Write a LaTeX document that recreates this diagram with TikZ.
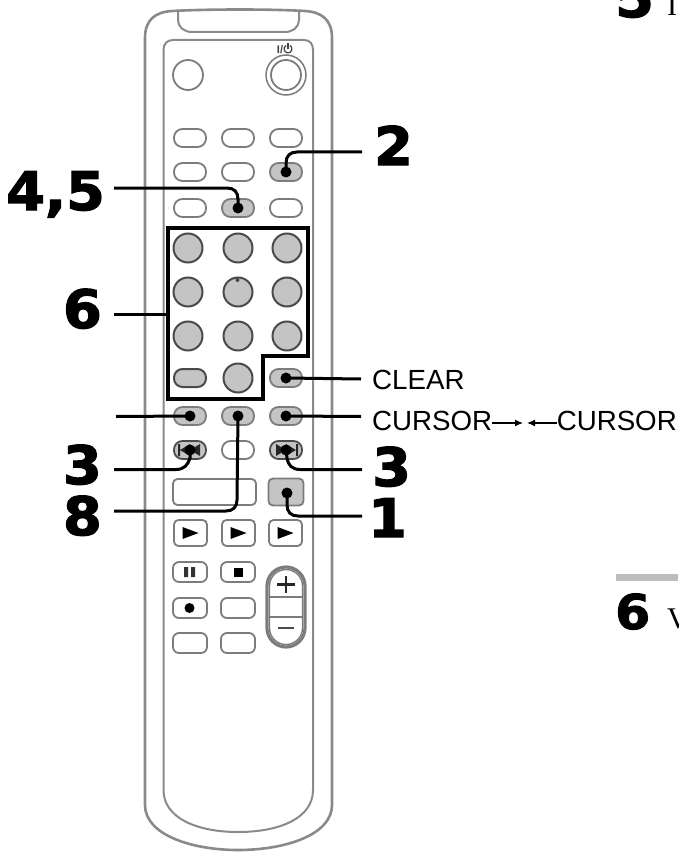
\documentclass[tikz,border=0pt]{standalone}
\usepackage{fontspec}
\setmainfont{Liberation Sans}
\newfontfamily\heavyface[FakeBold=2.4,FakeStretch=1.05]{DejaVu Sans Bold}
\newfontfamily\heavysmall[FakeBold=2,FakeStretch=1.05]{DejaVu Sans Bold}
\newfontfamily\serifface{Liberation Serif}
\usetikzlibrary{arrows.meta}
\definecolor{shell}{HTML}{8A8A8A}
\definecolor{btnline}{HTML}{7C7C7C}
\definecolor{btngray}{HTML}{C4C4C4}
\definecolor{keyline}{HTML}{4A4A4A}
\definecolor{barg}{HTML}{BDBDBD}
\tikzset{
  x=1pt,y=-1pt,
  shellline/.style={draw=shell,line width=2.6pt},
  panelline/.style={draw=shell,line width=2pt},
  oval/.style={rectangle,rounded corners=8.5pt,draw=btnline,line width=1.8pt,minimum width=32pt,minimum height=18pt,inner sep=0pt,fill=white},
  gov/.style={oval,fill=btngray,draw=btnline},
  kov/.style={oval,fill=btngray,draw=keyline,line width=2pt},
  kcirc/.style={circle,draw=keyline,line width=2pt,fill=btngray,minimum size=29pt,inner sep=0pt},
  rnd/.style={circle,draw=btnline,line width=1.8pt,inner sep=0pt,fill=white},
  squar/.style={rectangle,rounded corners=4.5pt,draw=btnline,line width=1.8pt,inner sep=0pt,fill=white,minimum width=33pt},
  dotn/.style={circle,fill=black,inner sep=0pt,minimum size=11pt},
  leader/.style={draw=black,line width=3pt},
  numeral/.style={inner sep=0pt,font=\heavyface\fontsize{53}{53}\selectfont},
  lab/.style={inner sep=0pt,font=\fontsize{27.7}{27.7}\selectfont},
  glyph/.style={fill=black!85},
}
\begin{document}
\begin{tikzpicture}
\useasboundingbox (0,0) rectangle (678,853);
\clip (0,0) rectangle (678,853);
% shell
\path[shellline] (145,805) -- (145,38) .. controls (145,20) and (155,12) .. (172,11)
  .. controls (210,9) and (270,9) .. (305,11) .. controls (322,12) and (332,20) .. (332,38)
  -- (332,805) .. controls (332,835) and (285,850) .. (238,850) .. controls (192,850) and (145,835) .. (145,805) -- cycle;
\path[panelline] (163.5,790) -- (163.5,50) .. controls (163.5,44) and (167,40) .. (173,40)
  -- (304,40) .. controls (310,40) and (313,44) .. (313,50) -- (313,790)
  .. controls (313,818) and (280,832) .. (238,832) .. controls (197,832) and (163.5,818) .. (163.5,790) -- cycle;
\path[panelline] (178,11) -- (178,20) .. controls (178,27) and (184,32) .. (192,32) -- (285,32)
  .. controls (293,32) and (299,27) .. (299,20) -- (299,11);
% top buttons
\node[rnd,minimum size=30pt] (bA) at (188,75) {};
\node[rnd,minimum size=40pt,line width=1.5pt] (bPo) at (286,75) {};
\node[rnd,minimum size=30pt,line width=1.8pt] (bPi) at (286,75) {};
\node[inner sep=0pt,font=\bfseries\fontsize{11}{11}\selectfont,text=black!75] (plab) at (280,49.5) {I/};
\draw[black!75,line width=1.2pt] (286,45.5) arc[start angle=120,end angle=420,radius=4pt];
\draw[black!75,line width=1.2pt] (288,43.5) -- (288,49);
\foreach \nm/\x/\y in {r1a/190/138,r1b/238/138,r1c/286/138,r2a/190/172,r2b/238/172,r3a/190/208,r3c/286/208}
  \node[oval] (\nm) at (\x,\y) {};
\node[gov] (r2c) at (286,172) {};
\node[gov] (r3b) at (238,208) {};
% keypad
\foreach \nm/\x/\y in {k1/188/248,k2/238/248,k3/287/248,k4/188/292,k5/238/292,k6/287/292,k7/188/336,k8/238/336,k9/287/336,k0/238/378}
  \node[kcirc] (\nm) at (\x,\y) {};
\fill[keyline] (237.5,280) circle[radius=2pt];
\node[kov] (kL) at (190,378) {};
\node[gov] (bClear) at (286,378) {};
% row y=416
\node[gov] (c1) at (190,416) {};
\node[gov] (c2) at (238,416) {};
\node[gov] (c3) at (286,416) {};
% skip row
\node[gov,draw=keyline] (s1) at (190,450) {};
\node[oval] (s2) at (238,450) {};
\node[gov,draw=keyline] (s3) at (286,450) {};
\fill[glyph] (178,444) rectangle (180,456) (180,450) -- (190,444) -- (190,456) -- cycle (190,450) -- (200,444) -- (200,456) -- cycle;
\fill[glyph] (296,444) rectangle (298,456) (296,450) -- (286,444) -- (286,456) -- cycle (286,450) -- (276,444) -- (276,456) -- cycle;
% display and gray square
\node[squar,minimum width=83pt,minimum height=26pt] (disp) at (214.5,492) {};
\node[squar,minimum width=35pt,minimum height=27pt,fill=btngray] (bOne) at (286,492) {};
% play row
\foreach \nm/\x in {p1/190.5,p2/238.5,p3/285.5}{
  \node[squar,minimum height=26pt] (\nm) at (\x,533) {};
  \fill[black] (\x-8,527) -- (\x+8,533) -- (\x-8,539) -- cycle;
}
% lower buttons
\foreach \nm/\x/\y in {q1/190/572,q2/238/572,q3/190/608,q4/238/608,q5/190/643,q6/238/643}
  \node[squar,minimum width=34pt,minimum height=20pt,rounded corners=6pt] (\nm) at (\x,\y) {};
\fill[black!80] (184,567) rectangle (188,577) (191,567) rectangle (195,577);
\fill[black] (233.5,567.5) rectangle (242.5,577);
\fill[black] (189.5,608) circle[radius=5pt];
% volume
\path[draw=btnline,line width=3.2pt,fill=white] (267,586) arc[start angle=180,end angle=360,radius=19pt,y radius=-19pt] -- (305,628) arc[start angle=0,end angle=180,radius=19pt,y radius=-19pt] -- cycle;
\path[draw=btnline,line width=1.4pt] (269.5,586) arc[start angle=180,end angle=360,radius=16.5pt,y radius=-16.5pt] -- (302.5,628) arc[start angle=0,end angle=180,radius=16.5pt,y radius=-16.5pt] -- cycle;
\draw[btnline,line width=1.6pt] (270,597) -- (302,597) (270,617) -- (302,617);
\draw[black!85,line width=2.6pt] (286,576) -- (286,593) (277,584.5) -- (295,584.5);
\draw[black!70,line width=2.4pt] (278,628) -- (294,628);
% keypad box
\draw[black,line width=3.6pt,line join=miter] (168,228) -- (308,228) -- (308,356) -- (263,356) -- (263,399) -- (168,399) -- cycle;
% dots
\node[dotn] (d2) at (r2c.center) {};
\node[dotn] (d45) at (r3b.center) {};
\node[dotn] (dClear) at (bClear.center) {};
\node[dotn] (dc1) at (c1.center) {};
\node[dotn] (d8) at (c2.center) {};
\node[dotn] (dc3) at (c3.center) {};
\node[dotn] (ds1) at (s1.center) {};
\node[dotn] (ds3) at (s3.center) {};
\node[dotn] (d1) at (287,493) {};
% free ends of leaders
\coordinate (e2) at (362,152);
\coordinate (e45) at (114,188);
\coordinate (e6) at (114,314);
\coordinate (ec1) at (116,416.5);
\coordinate (es1) at (114,469.5);
\coordinate (e8) at (114,511);
\coordinate (eClear) at (361,379);
\coordinate (ec3) at (361,416.5);
\coordinate (es3) at (362,469.5);
\coordinate (e1) at (362,516);
\coordinate (k6box) at (168,314);
% leaders
\draw[leader] (d2.center) -- (286,163) .. controls (286,156) and (290,152) .. (297,152) -- (e2);
\draw[leader] (d45.center) -- (238,199) .. controls (238,192) and (234,188) .. (227,188) -- (e45);
\draw[leader] (e6) -- (k6box);
\draw[leader] (dClear.center) -- (eClear);
\draw[leader] (dc1.center) -- (ec1);
\draw[leader] (dc3.center) -- (ec3);
\draw[leader] (d8.center) -- (237,500) .. controls (237,507) and (233,511) .. (226,511) -- (e8);
\draw[leader] (ds1.center) -- (190,458) .. controls (188,465) and (184,469.5) .. (176,469.5) -- (es1);
\draw[leader] (ds3.center) -- (287,458) .. controls (288,465) and (292,469.5) .. (300,469.5) -- (es3);
\draw[leader] (d1.center) -- (287,505) .. controls (287,512) and (291,516) .. (298,516) -- (e1);
% numerals
\node[numeral,anchor=base west] (n2) at (374,165) {2};
\node[numeral,anchor=base east] (n45) at (105,210) {4,5};
\node[numeral,anchor=base east] (n6) at (102,328) {6};
\node[numeral,anchor=base east] (n3a) at (102,484) {3};
\node[numeral,anchor=base east] (n8) at (102,535) {8};
\node[numeral,anchor=base west] (n3b) at (372,486) {3};
\node[numeral,anchor=base west] (n1) at (368,537) {1};
\node[numeral,anchor=base west] (n5top) at (615,17) {5};
\node[numeral,anchor=base west,font=\heavysmall\fontsize{48}{48}\selectfont] (n6b) at (615,629) {6};
% clipped page text
\node[inner sep=0pt,anchor=base west,font=\serifface\fontsize{30}{30}\selectfont] (tI) at (667,16) {I};
\node[inner sep=0pt,anchor=base west,font=\serifface\fontsize{30}{30}\selectfont] (tV) at (667,628) {V};
\fill[barg] (616,574) rectangle (678,581);
% labels
\node[lab,anchor=base west] (lClear) at (372,389) {CLEAR};
\node[lab,anchor=base west] (lCur1) at (372,430) {CURSOR};
\node[lab,anchor=base east] (lCur2) at (677,430) {CURSOR};
\coordinate (tipA) at (523,423);
\coordinate (tipB) at (527,423);
\draw[-{Latex[length=8pt,width=7pt]},line width=1.2pt] (lCur1.east |- tipA) -- (tipA);
\draw[-{Latex[length=8pt,width=7pt]},line width=1.2pt] (lCur2.west |- tipB) -- (tipB);
\end{tikzpicture}
\end{document}
